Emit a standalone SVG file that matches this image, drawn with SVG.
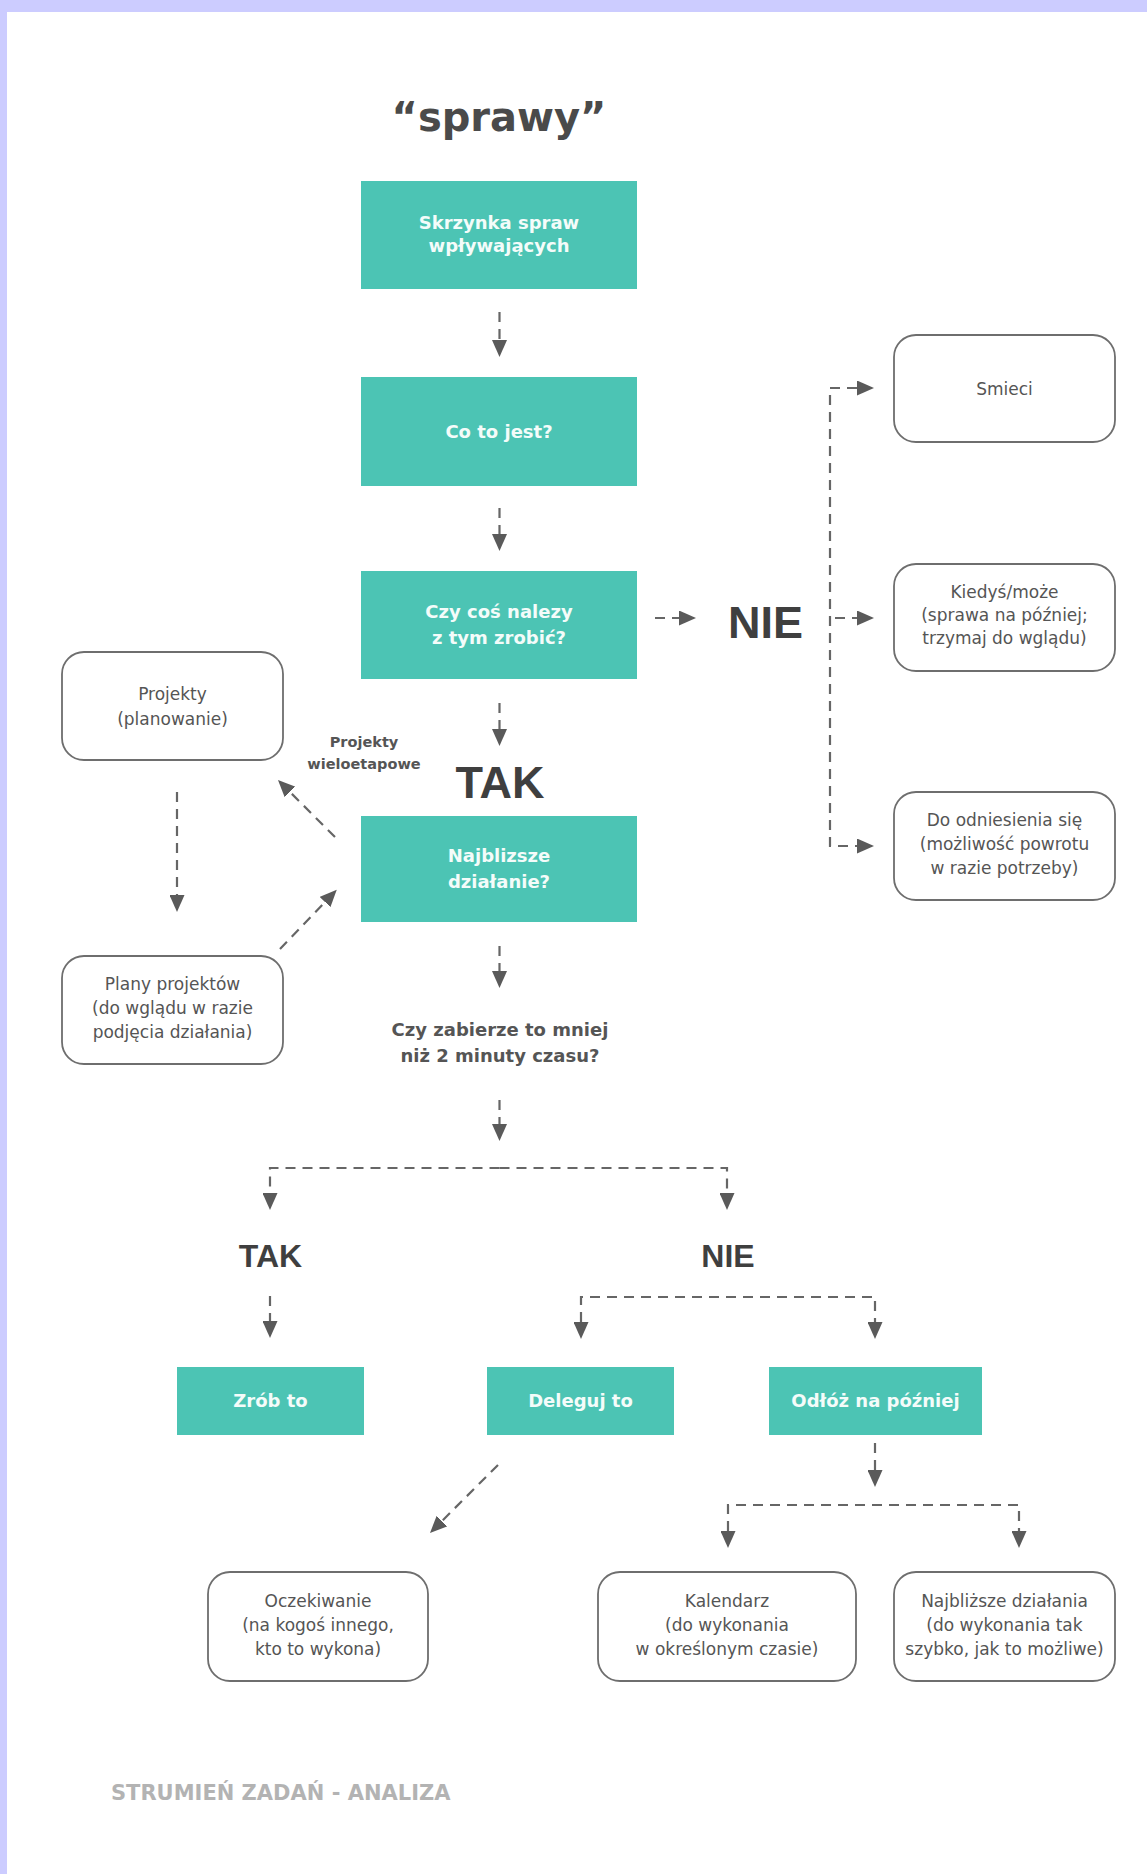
<svg xmlns="http://www.w3.org/2000/svg" width="1147" height="1874" viewBox="0 0 1147 1874">
<defs>
<style>
.teal{fill:#4cc4b4}
.tt{font-family:"DejaVu Sans",sans-serif;font-weight:bold;font-size:18px;fill:#f4fcfa;text-anchor:middle}
.rb{fill:#fff;stroke:#6e6e6e;stroke-width:1.8}
.rt{font-family:"DejaVu Sans",sans-serif;font-size:17px;fill:#555;text-anchor:middle}
.big{font-family:"Liberation Sans",Arial,sans-serif;font-weight:bold;fill:#3f3f3f;text-anchor:middle}
.q{font-family:"DejaVu Sans",sans-serif;font-weight:bold;fill:#555;text-anchor:middle}
.c{fill:none;stroke:#666;stroke-width:2.2;stroke-dasharray:10 7}
.e{marker-end:url(#ah)}
.s{marker-start:url(#ahs)}
</style>
<marker id="ah" viewBox="0 0 17 15" refX="0" refY="7.5" markerWidth="17" markerHeight="15" markerUnits="userSpaceOnUse" orient="auto"><path d="M0,0 L17,7.5 L0,15 z" fill="#5a5a5a"/></marker>
<marker id="ahs" viewBox="0 0 17 15" refX="0" refY="7.5" markerWidth="17" markerHeight="15" markerUnits="userSpaceOnUse" orient="auto-start-reverse"><path d="M0,0 L17,7.5 L0,15 z" fill="#5a5a5a"/></marker>
</defs>
<rect x="0" y="0" width="1147" height="1874" fill="#fff"/>
<rect x="0" y="0" width="1147" height="12" fill="#ccccff"/>
<rect x="0" y="0" width="7" height="1874" fill="#ccccff"/>

<text x="499" y="131" style="font-family:'DejaVu Sans',sans-serif;font-weight:bold;font-size:40px;fill:#4a4a4a;text-anchor:middle">“sprawy”</text>

<g id="connectors">
<path class="c e" d="M499.5,312 V340"/>
<path class="c e" d="M499.5,508 V534"/>
<path class="c e" d="M499.5,703 V729"/>
<path class="c e" d="M499.5,946 V971"/>
<path class="c e" d="M499.5,1100 V1124"/>
<path class="c e" d="M499.5,1168 H270 V1193"/>
<path class="c e" d="M499.5,1168 H727 V1193"/>
<path class="c e" d="M270,1296 V1321"/>
<path class="c s e" d="M581,1322 V1297 H875 V1322"/>
<path class="c e" d="M498,1465 L442,1521"/>
<path class="c e" d="M875,1443 V1470"/>
<path class="c s e" d="M728,1531 V1505 H1019 V1531"/>
<path class="c e" d="M655,618 H679"/>
<path class="c s e" d="M857,388 H830 V846 H857"/>
<path class="c e" d="M835,618 H857"/>
<path class="c e" d="M335,837 L290,792"/>
<path class="c e" d="M177,792 V895"/>
<path class="c e" d="M280,949 L325,902"/>
</g>

<g id="n-skrzynka"><rect class="teal" x="361" y="181" width="276" height="108"/><text class="tt" x="499" y="229">Skrzynka spraw</text><text class="tt" x="499" y="252">wpływających</text></g>
<g id="n-cotojest"><rect class="teal" x="361" y="377" width="276" height="109"/><text class="tt" x="499" y="438">Co to jest?</text></g>
<g id="n-czycos"><rect class="teal" x="361" y="571" width="276" height="108"/><text class="tt" x="499" y="618">Czy coś nalezy</text><text class="tt" x="499" y="644">z tym zrobić?</text></g>
<g id="n-nie1"><text class="big" x="765.5" y="638" font-size="45">NIE</text></g>
<g id="n-tak1"><text class="big" x="500" y="798" font-size="45">TAK</text></g>
<g id="n-najblizsze"><rect class="teal" x="361" y="816" width="276" height="106"/><text class="tt" x="499" y="862">Najblizsze</text><text class="tt" x="499" y="888">działanie?</text></g>

<g id="n-smieci"><rect class="rb" x="894" y="335" width="221" height="107" rx="22"/><text class="rt" x="1004.5" y="395">Smieci</text></g>
<g id="n-kiedys"><rect class="rb" x="894" y="564" width="221" height="107" rx="22"/><text class="rt" x="1004.5" y="598">Kiedyś/może</text><text class="rt" x="1004.5" y="621">(sprawa na później;</text><text class="rt" x="1004.5" y="644">trzymaj do wglądu)</text></g>
<g id="n-odniesienia"><rect class="rb" x="894" y="792" width="221" height="108" rx="22"/><text class="rt" x="1004.5" y="826">Do odniesienia się</text><text class="rt" x="1004.5" y="850">(możliwość powrotu</text><text class="rt" x="1004.5" y="874">w razie potrzeby)</text></g>

<g id="n-projekty"><rect class="rb" x="62" y="652" width="221" height="108" rx="22"/><text class="rt" x="172.5" y="700">Projekty</text><text class="rt" x="172.5" y="725">(planowanie)</text></g>
<g id="n-plany"><rect class="rb" x="62" y="956" width="221" height="108" rx="22"/><text class="rt" x="172.5" y="990">Plany projektów</text><text class="rt" x="172.5" y="1014">(do wglądu w razie</text><text class="rt" x="172.5" y="1038">podjęcia działania)</text></g>
<g id="l-wieloetapowe"><text class="q" x="364" y="747" font-size="14.5">Projekty</text><text class="q" x="364" y="769" font-size="14.5">wieloetapowe</text></g>

<g id="n-pytanie"><text class="q" x="500" y="1036" font-size="18">Czy zabierze to mniej</text><text class="q" x="500" y="1062" font-size="18">niż 2 minuty czasu?</text></g>

<g id="n-tak2"><text class="big" x="270.5" y="1267" font-size="32">TAK</text></g>
<g id="n-nie2"><text class="big" x="728" y="1267" font-size="32">NIE</text></g>

<g id="n-zrob"><rect class="teal" x="177" y="1367" width="187" height="68"/><text class="tt" x="270.5" y="1407">Zrób to</text></g>
<g id="n-deleguj"><rect class="teal" x="487" y="1367" width="187" height="68"/><text class="tt" x="580.5" y="1407">Deleguj to</text></g>
<g id="n-odloz"><rect class="teal" x="769" y="1367" width="213" height="68"/><text class="tt" x="875.5" y="1407">Odłóż na później</text></g>

<g id="n-oczekiwanie"><rect class="rb" x="208" y="1572" width="220" height="109" rx="22"/><text class="rt" x="318" y="1607">Oczekiwanie</text><text class="rt" x="318" y="1631">(na kogoś innego,</text><text class="rt" x="318" y="1655">kto to wykona)</text></g>
<g id="n-kalendarz"><rect class="rb" x="598" y="1572" width="258" height="109" rx="22"/><text class="rt" x="727" y="1607">Kalendarz</text><text class="rt" x="727" y="1631">(do wykonania</text><text class="rt" x="727" y="1655">w określonym czasie)</text></g>
<g id="n-najblizsze2"><rect class="rb" x="894" y="1572" width="221" height="109" rx="22"/><text class="rt" x="1004.5" y="1607">Najbliższe działania</text><text class="rt" x="1004.5" y="1631">(do wykonania tak</text><text class="rt" x="1004.5" y="1655">szybko, jak to możliwe)</text></g>

<text x="111" y="1800" style="font-family:'DejaVu Sans',sans-serif;font-weight:bold;font-size:21px;fill:#b3b3b3">STRUMIEŃ ZADAŃ - ANALIZA</text>
</svg>
